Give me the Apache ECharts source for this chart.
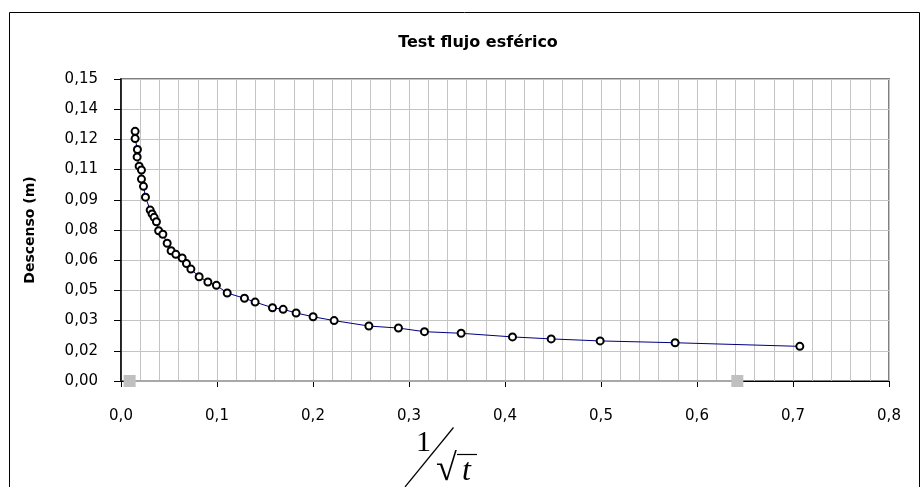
<!DOCTYPE html>
<html>
<head>
<meta charset="utf-8">
<script src="https://cdn.jsdelivr.net/npm/echarts@6/dist/echarts.min.js"></script>
<style>
html,body{margin:0;padding:0;background:#fff;}
#chart{width:923px;height:487px;}
</style>
</head>
<body>
<div id="chart"></div>
<script>
// ---- data ----
var titleText = 'Test flujo esférico';
var yAxisTitle = 'Descenso (m)';
var xVals = [0.0147,0.0147,0.0171,0.0168,0.0189,0.0213,0.0213,0.0234,0.0255,0.0304,0.0324,0.0345,0.0369,0.0392,0.0436,0.0481,0.0522,0.0571,0.0637,0.0682,0.0728,0.0814,0.0905,0.0994,0.1106,0.1286,0.1397,0.1578,0.1689,0.1824,0.2001,0.2220,0.2582,0.2890,0.3161,0.3543,0.4078,0.4481,0.4991,0.5772,0.7071];
var yVals = [0.1240,0.1204,0.1150,0.1113,0.1067,0.1048,0.1003,0.0967,0.0913,0.0849,0.0830,0.0813,0.0791,0.0746,0.0729,0.0684,0.0647,0.0629,0.0611,0.0583,0.0556,0.0518,0.0492,0.0475,0.0437,0.0411,0.0392,0.0364,0.0356,0.0338,0.0319,0.0300,0.0273,0.0263,0.0245,0.0237,0.0219,0.0209,0.0199,0.0190,0.0172];
var refX = [0.009, 0.642];
var refY = [0, 0];
var xTickLabels = ['0,0','0,1','0,2','0,3','0,4','0,5','0,6','0,7','0,8'];
var yTickLabels = ['0,00','0,02','0,03','0,05','0,06','0,08','0,09','0,11','0,12','0,14','0,15'];

var mainData = xVals.map(function(x,i){return [x,yVals[i]];});
var refData = refX.map(function(x,i){return [x,refY[i]];});

var chart = echarts.init(document.getElementById('chart'), null, {renderer:'canvas'});
var FONT = 'DejaVu Sans';
var option = {
  backgroundColor:'#ffffff',
  animation:false,
  title:{
    text:titleText, left:473, top:30, textAlign:'center',
    textStyle:{fontFamily:FONT, fontSize:16, fontWeight:'bold', color:'#000'}
  },
  grid:{left:121, right:34, top:79, bottom:106, show:true, borderColor:'#808080', borderWidth:2, containLabel:false},
  xAxis:{
    type:'value', min:0, max:0.8, interval:0.1,
    axisLine:{show:true, onZero:false, lineStyle:{color:'#000', width:1}},
    axisTick:{show:true, length:6, inside:false, lineStyle:{color:'#000'}},
    minorTick:{show:false, splitNumber:5},
    splitLine:{show:true, lineStyle:{color:'#c4c4c4', width:1}},
    minorSplitLine:{show:true, lineStyle:{color:'#c4c4c4', width:1}},
    axisLabel:{margin:28, fontFamily:FONT, fontSize:15, color:'#000',
      formatter:function(v){var i=Math.round(v*10);return xTickLabels[i]!==undefined?xTickLabels[i]:'';}}
  },
  yAxis:{
    type:'value', min:0, max:0.15, interval:0.015,
    name:yAxisTitle, nameLocation:'middle', nameGap:84, nameRotate:90,
    nameTextStyle:{fontFamily:FONT, fontSize:14, fontWeight:'bold', color:'#000'},
    axisLine:{show:true, onZero:false, lineStyle:{color:'#000', width:1.5}},
    axisTick:{show:true, length:7, inside:false, lineStyle:{color:'#000'}},
    splitLine:{show:true, lineStyle:{color:'#c4c4c4', width:1}},
    axisLabel:{margin:23, fontFamily:FONT, fontSize:15, color:'#000',
      formatter:function(v){var i=Math.round(v/0.015);return yTickLabels[i]!==undefined?yTickLabels[i]:'';}}
  },
  series:[
    {
      type:'line', data:refData, symbol:'rect', symbolSize:12, z:3,
      itemStyle:{color:'#c0c0c0'}, lineStyle:{color:'#a8a8a8', width:2},
      silent:true
    },
    {
      type:'line', data:mainData, symbol:'circle', symbolSize:7, z:4,
      showAllSymbol:true,
      itemStyle:{color:'#ffffff', borderColor:'#000000', borderWidth:2},
      lineStyle:{color:'#000080', width:1},
      silent:true
    }
  ],
  graphic:[
    {type:'rect', shape:{x:9.5, y:12.5, width:910, height:500}, style:{fill:'none', stroke:'#000', lineWidth:1}, z:-10, silent:true},
    {type:'text', left:416, top:428, style:{text:'1', font:'30px "Liberation Serif"', fill:'#000'}, silent:true},
    {type:'line', shape:{x1:405, y1:487, x2:453.5, y2:427.5}, style:{stroke:'#000', lineWidth:1.2}, silent:true},
    {type:'text', left:436, top:451, style:{text:'√', font:'38px "Liberation Serif"', fill:'#000'}, silent:true},
    {type:'line', shape:{x1:457, y1:454.5, x2:477, y2:454.5}, style:{stroke:'#000', lineWidth:1.2}, silent:true},
    {type:'text', left:462, top:456, style:{text:'t', font:'italic 32px "Liberation Serif"', fill:'#000'}, silent:true}
  ]
};
chart.setOption(option);
</script>
</body>
</html>
